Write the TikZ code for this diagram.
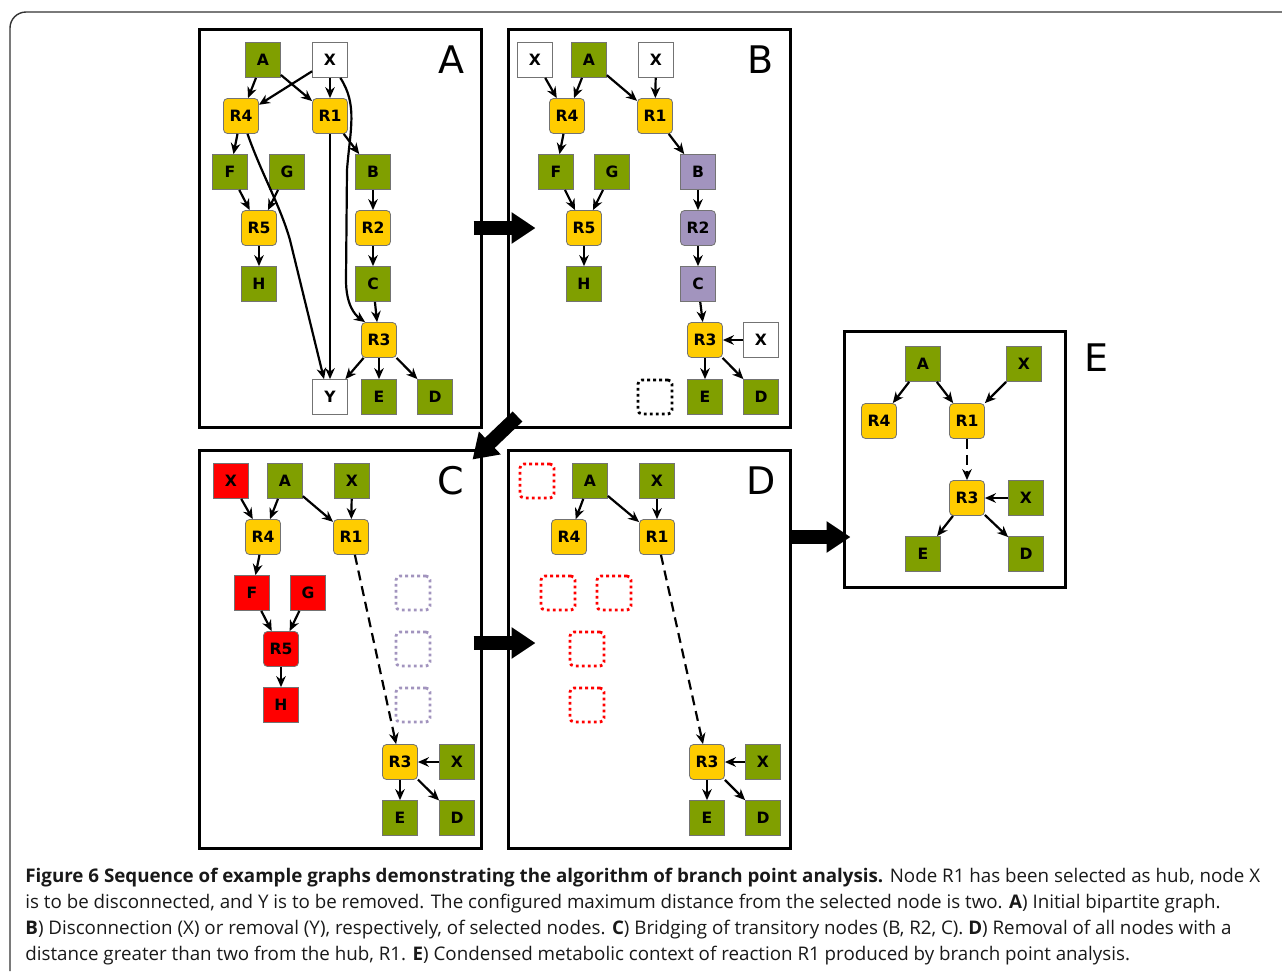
\documentclass[tikz,border=0pt]{standalone}
\usepackage{fontspec}
\setmainfont{Open Sans}
\newfontfamily\graphfont{DejaVu Sans}
\usepackage{xcolor}
\usetikzlibrary{arrows.meta}
\definecolor{metgreen}{HTML}{809F00}
\definecolor{rxnyellow}{HTML}{FFCC00}
\definecolor{bridgepurple}{HTML}{A294BE}
\definecolor{dropred}{HTML}{FF0000}
\tikzstyle{metbox} = [draw=black!55, fill=metgreen, rectangle, line width=0.4pt,
minimum size=17.5pt, inner sep=0pt, font=\graphfont\bfseries\fontsize{7.8}{8}\selectfont]
\tikzstyle{rxnbox} = [metbox, fill=rxnyellow, rounded corners=2pt]
\tikzstyle{cutbox} = [metbox, fill=white]
\tikzstyle{transbox} = [metbox, fill=bridgepurple]
\tikzstyle{transrxn} = [rxnbox, fill=bridgepurple]
\tikzstyle{dropbox} = [metbox, fill=dropred]
\tikzstyle{droprxn} = [rxnbox, fill=dropred]
\tikzstyle{gonebox} = [rectangle, rounded corners=2pt, line width=1.4pt,
dash pattern=on 1.4pt off 1.6pt, minimum size=17pt, inner sep=0pt]
\tikzstyle{panel} = [draw=black, line width=1.5pt, rectangle, inner sep=0pt]
\tikzstyle{panellabel} = [font=\graphfont\fontsize{19}{19}\selectfont, inner sep=0pt]
\tikzstyle{edge} = [-{Stealth[length=5.5pt,width=4.8pt]}, line width=1.1pt]
\tikzstyle{bridge} = [edge, dash pattern=on 5pt off 3pt]
\tikzstyle{bigarrow} = [-{Triangle[length=12pt,width=15pt]}, line width=7pt]
\tikzstyle{caption} = [anchor=base west, inner sep=0pt, text=black!90,
font=\fontsize{9.38}{11}\selectfont]

\begin{document}
\begin{tikzpicture}[x=0.5pt, y=-0.5pt]
    \useasboundingbox (0,0) rectangle (1282,971);
    \draw[black!80, line width=0.7pt, rounded corners=8pt] (10,971) -- (10,12) -- (1282,12);

    % panels
    \node[panel, minimum width=141pt, minimum height=199pt] (pA) at (340,228) {};
    \node[panel, minimum width=141pt, minimum height=199pt] (pB) at (649,228) {};
    \node[panel, minimum width=141pt, minimum height=199pt] (pC) at (340,649) {};
    \node[panel, minimum width=141pt, minimum height=199pt] (pD) at (649,649) {};
    \node[panel, minimum width=110.5pt, minimum height=128pt] (pE) at (954.5,459) {};
    \node[panellabel] (lA) at (451,60) {A};
    \node[panellabel] (lB) at (761,60) {B};
    \node[panellabel] (lC) at (451,481) {C};
    \node[panellabel] (lD) at (761,481) {D};
    \node[panellabel] (lE) at (1096,358) {E};

    % A: initial graph
    \node[metbox] (A-A) at (263,60) {A};
    \node[cutbox] (A-X) at (330,60) {X};
    \node[rxnbox] (A-R4) at (241,116) {R4};
    \node[rxnbox] (A-R1) at (330,116) {R1};
    \node[metbox] (A-F) at (230,172) {F};
    \node[metbox] (A-G) at (287,172) {G};
    \node[metbox] (A-B) at (373,172) {B};
    \node[rxnbox] (A-R5) at (259,228) {R5};
    \node[rxnbox] (A-R2) at (373,228) {R2};
    \node[metbox] (A-H) at (259,284) {H};
    \node[metbox] (A-C) at (373,284) {C};
    \node[rxnbox] (A-R3) at (379,340) {R3};
    \node[cutbox] (A-Y) at (330,397) {Y};
    \node[metbox] (A-E) at (379,397) {E};
    \node[metbox] (A-D) at (435,397) {D};
    \foreach \s/\t in {A/R4, A/R1, X/R4, X/R1, R1/B, R1/Y, R4/F, F/R5, G/R5, R5/H,
        B/R2, R2/C, C/R3, R3/Y, R3/E, R3/D}
        \draw[edge] (A-\s) -- (A-\t);
    \draw[edge] (A-X.-60) .. controls (358,105) and (350,130) .. (347,170) -- (346,280)
        .. controls (346,305) and (355,315) .. ([xshift=2pt]A-R3.north west);
    \draw[edge] (A-R4.-70) .. controls (262,175) and (280,205) .. (290,240)
        -- ([xshift=-3pt]A-Y.north);

    % B: disconnection and removal
    \node[cutbox] (B-X1) at (535,60) {X};
    \node[metbox] (B-A) at (589,60) {A};
    \node[cutbox] (B-X2) at (656,60) {X};
    \node[rxnbox] (B-R4) at (567,116) {R4};
    \node[rxnbox] (B-R1) at (655,116) {R1};
    \node[metbox] (B-F) at (556,172) {F};
    \node[metbox] (B-G) at (612,172) {G};
    \node[transbox] (B-B) at (698,172) {B};
    \node[rxnbox] (B-R5) at (584,228) {R5};
    \node[transrxn] (B-R2) at (698,228) {R2};
    \node[metbox] (B-H) at (584,284) {H};
    \node[transbox] (B-C) at (698,284) {C};
    \node[rxnbox] (B-R3) at (705,340) {R3};
    \node[cutbox] (B-X3) at (761,340) {X};
    \node[gonebox, draw=black] (B-Y) at (655,397) {};
    \node[metbox] (B-E) at (705,397) {E};
    \node[metbox] (B-D) at (761,397) {D};
    \foreach \s/\t in {X1/R4, A/R4, A/R1, X2/R1, R4/F, F/R5, G/R5, R5/H, R1/B,
        B/R2, R2/C, C/R3, X3/R3, R3/E, R3/D}
        \draw[edge] (B-\s) -- (B-\t);

    % C: bridging
    \node[dropbox] (C-X1) at (231,481) {X};
    \node[metbox] (C-A) at (285,481) {A};
    \node[metbox] (C-X2) at (352,481) {X};
    \node[rxnbox] (C-R4) at (263,537) {R4};
    \node[rxnbox] (C-R1) at (351,537) {R1};
    \node[dropbox] (C-F) at (252,593) {F};
    \node[dropbox] (C-G) at (308,593) {G};
    \node[droprxn] (C-R5) at (281,649) {R5};
    \node[dropbox] (C-H) at (281,705) {H};
    \node[gonebox, draw=bridgepurple] (C-B) at (413,593) {};
    \node[gonebox, draw=bridgepurple] (C-R2) at (413,649) {};
    \node[gonebox, draw=bridgepurple] (C-C) at (413,705) {};
    \node[rxnbox] (C-R3) at (400,762) {R3};
    \node[metbox] (C-X3) at (457,762) {X};
    \node[metbox] (C-E) at (400,818) {E};
    \node[metbox] (C-D) at (457,818) {D};
    \foreach \s/\t in {X1/R4, A/R4, A/R1, X2/R1, R4/F, F/R5, G/R5, R5/H, X3/R3, R3/E, R3/D}
        \draw[edge] (C-\s) -- (C-\t);
    \draw[bridge] (C-R1) -- (C-R3);

    % D: removal by distance
    \node[gonebox, draw=dropred] (D-X1) at (537,481) {};
    \node[metbox] (D-A) at (590,481) {A};
    \node[metbox] (D-X2) at (657,481) {X};
    \node[rxnbox] (D-R4) at (569,537) {R4};
    \node[rxnbox] (D-R1) at (657,537) {R1};
    \node[gonebox, draw=dropred] (D-F) at (558,593) {};
    \node[gonebox, draw=dropred] (D-G) at (614,593) {};
    \node[gonebox, draw=dropred] (D-R5) at (587,649) {};
    \node[gonebox, draw=dropred] (D-H) at (587,705) {};
    \node[rxnbox] (D-R3) at (707,762) {R3};
    \node[metbox] (D-X3) at (763,762) {X};
    \node[metbox] (D-E) at (707,818) {E};
    \node[metbox] (D-D) at (763,818) {D};
    \foreach \s/\t in {A/R4, A/R1, X2/R1, X3/R3, R3/E, R3/D}
        \draw[edge] (D-\s) -- (D-\t);
    \draw[bridge] (D-R1) -- (D-R3);

    % E: condensed context
    \node[metbox] (E-A) at (923,364) {A};
    \node[metbox] (E-X1) at (1024,364) {X};
    \node[rxnbox] (E-R4) at (879,421) {R4};
    \node[rxnbox] (E-R1) at (967,421) {R1};
    \node[rxnbox] (E-R3) at (967,498) {R3};
    \node[metbox] (E-X2) at (1026,498) {X};
    \node[metbox] (E-E) at (923,554) {E};
    \node[metbox] (E-D) at (1026,554) {D};
    \foreach \s/\t in {A/R4, A/R1, X1/R1, X2/R3, R3/E, R3/D}
        \draw[edge] (E-\s) -- (E-\t);
    \draw[bridge] (E-R1) -- (E-R3);

    % steps between panels
    \draw[bigarrow] ([xshift=-4.5pt]pA.east) -- ([xshift=14.5pt]pB.west);
    \draw[bigarrow] ([xshift=5.5pt,yshift=6pt]pB.south west) -- ([xshift=-5pt,yshift=-5.5pt]pC.north east);
    \draw[bigarrow] ([xshift=-4.5pt,yshift=3pt]pC.east) -- ([xshift=14.5pt,yshift=3pt]pD.west);
    \draw[bigarrow] ([yshift=56pt]pD.east) -- ([xshift=4pt,yshift=-39pt]pE.west);

    % caption
    \node[caption] (cap1) at (25,882) {\textbf{Figure 6 Sequence of example graphs demonstrating the algorithm of branch point analysis.} Node R1 has been selected as hub, node X};
    \node[caption] (cap2) at (25,908) {is to be disconnected, and Y is to be removed. The configured maximum distance from the selected node is two. \textbf{A}) Initial bipartite graph.};
    \node[caption] (cap3) at (25,934) {\textbf{B}) Disconnection (X) or removal (Y), respectively, of selected nodes. \textbf{C}) Bridging of transitory nodes (B, R2, C). \textbf{D}) Removal of all nodes with a};
    \node[caption] (cap4) at (25,960) {distance greater than two from the hub, R1. \textbf{E}) Condensed metabolic context of reaction R1 produced by branch point analysis.};
\end{tikzpicture}
\end{document}
